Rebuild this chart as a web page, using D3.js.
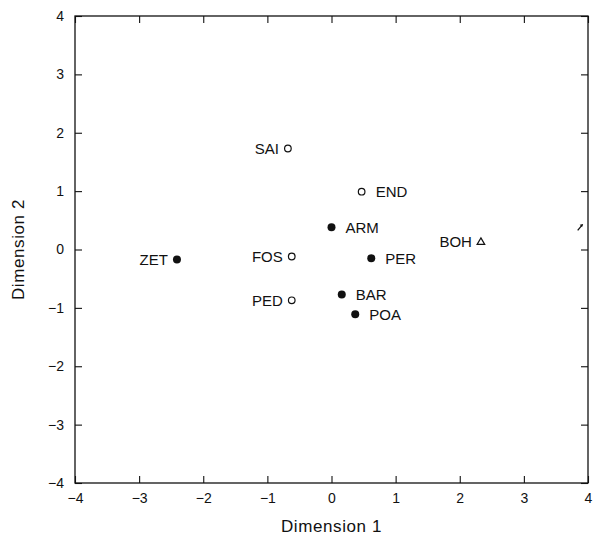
<!DOCTYPE html>
<html><head><meta charset="utf-8">
<script src="https://cdn.jsdelivr.net/npm/d3@7"></script>
<style>body{margin:0;background:#fff}svg{display:block}text{font-family:"Liberation Sans",Arial,sans-serif;fill:#111}</style>
</head><body><svg id="c" width="596" height="537"></svg>
<script>
const labels = ["SAI","END","ARM","ZET","FOS","PER","BOH","BAR","PED","POA"];
const dim1   = [-0.68, 0.47, 0.00, -2.41, -0.62, 0.62, 2.33, 0.16, -0.62, 0.37];
const dim2   = [ 1.73, 0.99, 0.38, -0.17, -0.12, -0.15, 0.14, -0.77, -0.87, -1.11];
const markers= ["open","open","filled","filled","open","filled","triangle","filled","open","filled"];
const labelSide = ["left","right","right","left","left","right","left","right","left","right"];
const tickVals = [-4,-3,-2,-1,0,1,2,3,4];

const svg = d3.select("#c");
const L=75, R=588, T=16, B=483;
const x = d3.scaleLinear().domain([-4,4]).range([L,R]);
const y = d3.scaleLinear().domain([-4,4]).range([B,T]);
const fmt = d => d<0 ? "\u2212"+Math.abs(d) : String(d);

// frame
svg.append("rect").attr("x",L).attr("y",T).attr("width",R-L).attr("height",B-T)
  .attr("fill","none").attr("stroke","#111").attr("stroke-width",1.3);

// axes with inward ticks
const ax = (g)=>g.call(s=>s.select(".domain").remove());
svg.append("g").attr("transform",`translate(0,${B})`)
  .call(d3.axisBottom(x).tickValues(tickVals).tickSize(-7).tickPadding(10).tickFormat(fmt)).call(ax)
  .selectAll("text").attr("font-size",14);
svg.append("g").attr("transform",`translate(0,${T})`)
  .call(d3.axisTop(x).tickValues(tickVals).tickSize(-7).tickFormat("")).call(ax);
svg.append("g").attr("transform",`translate(${L},0)`)
  .call(d3.axisLeft(y).tickValues(tickVals).tickSize(-7).tickPadding(11).tickFormat(fmt)).call(ax)
  .selectAll("text").attr("font-size",14);
svg.append("g").attr("transform",`translate(${R},0)`)
  .call(d3.axisRight(y).tickValues(tickVals).tickSize(-7).tickFormat("")).call(ax);
svg.selectAll(".tick line").attr("stroke","#111").attr("stroke-width",1.1);
svg.selectAll(".tick text").attr("fill","#111").attr("font-family",'"Liberation Sans",Arial,sans-serif');

// axis titles
svg.append("text").attr("x",(L+R)/2).attr("y",532).attr("text-anchor","middle")
  .attr("font-size",17).attr("letter-spacing",0.6).text("Dimension 1");
svg.append("text").attr("transform",`translate(24,${(T+B)/2}) rotate(-90)`).attr("text-anchor","middle")
  .attr("font-size",17).attr("letter-spacing",0.6).text("Dimension 2");

// points
const data = labels.map((l,i)=>({l, x:dim1[i], y:dim2[i], m:markers[i], s:labelSide[i]}));
const g = svg.append("g");
data.forEach(d=>{
  const px=x(d.x), py=y(d.y);
  if(d.m==="filled") g.append("circle").attr("cx",px).attr("cy",py).attr("r",4).attr("fill","#111");
  else if(d.m==="open") g.append("circle").attr("cx",px).attr("cy",py).attr("r",3.3).attr("fill","none").attr("stroke","#111").attr("stroke-width",1.2);
  else g.append("path").attr("transform",`translate(${px},${py})`).attr("d","M0,-3.5L3.8,3L-3.8,3Z").attr("fill","none").attr("stroke","#111").attr("stroke-width",1.2);
  g.append("text").attr("x", d.s==="left"? px-9 : px+14).attr("y",py)
    .attr("dy","0.35em").attr("text-anchor", d.s==="left"?"end":"start")
    .attr("font-size",15).text(d.l);
});

// small arrow mark near right border
const ax0=x(3.87), ay0=y(0.38);
svg.append("path").attr("d",`M${ax0-2},${ay0+3}L${ax0+3},${ay0-3}`).attr("stroke","#111").attr("stroke-width",1.3);
svg.append("path").attr("d",`M${ax0+3},${ay0-3}L${ax0},${ay0-2.5}L${ax0+2.5},${ay0}Z`).attr("fill","#111");
</script></body></html>
